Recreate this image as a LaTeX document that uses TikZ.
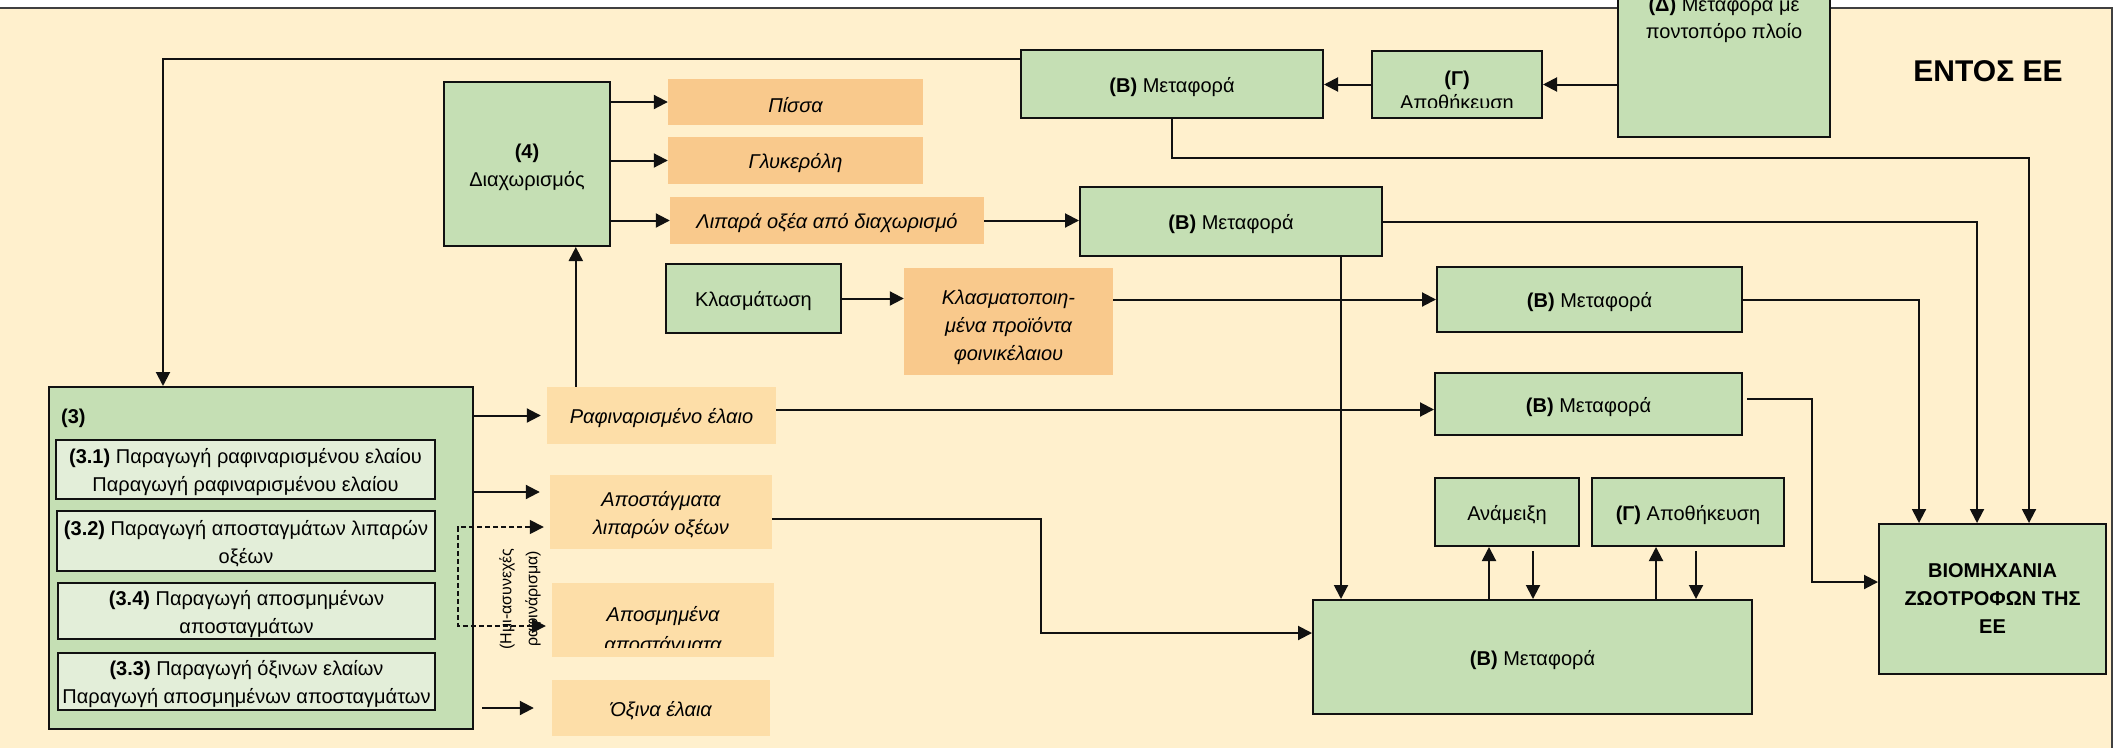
\documentclass[tikz,border=0pt]{standalone}
\usepackage{fontspec}
\setmainfont{Liberation Sans}
\usetikzlibrary{arrows.meta}
\definecolor{bgyel}{HTML}{FFF0CD}
\definecolor{grn}{HTML}{C5DFB4}
\definecolor{lgrn}{HTML}{E3EED9}
\definecolor{orng}{HTML}{F9C98C}
\definecolor{lorng}{HTML}{FDDEA8}
\definecolor{lc}{HTML}{111111}
\definecolor{framec}{HTML}{404040}
\newcommand\bfnt{\fontsize{20}{28}\selectfont}
\newcommand\upstrut{\rule{0pt}{21pt}}
\newcommand\upstrutb{\rule{0pt}{26pt}}
\newcommand\bx[7]{\node[#2, minimum width={(#5-#3)*1pt}, minimum height={(#6-#4)*1pt}] (#1) at ({(#3+#5)/2},{(#4+#6)/2}) {#7};}
\tikzset{
  every node/.style={font=\bfnt, align=center, inner sep=0pt},
  lowtext/.style={execute at begin node={\rule{0pt}{21pt}}},
  gbox/.style={draw=lc, line width=2pt, fill=grn, lowtext},
  lgbox/.style={draw=lc, line width=2pt, fill=lgrn, lowtext},
  obox/.style={fill=orng, lowtext},
  lobox/.style={fill=lorng, lowtext},
  itx/.style={font=\bfnt\itshape},
  bfx/.style={font=\bfnt\bfseries},
  arr/.style={draw=lc, line width=2pt, -{Triangle[length=14pt,width=14pt]}},
  darr/.style={draw=lc, line width=1.6pt, dash pattern=on 5pt off 3pt,
    {Triangle[length=14pt,width=14pt]}-{Triangle[length=14pt,width=14pt]}},
}
\begin{document}
\begin{tikzpicture}[x=1pt,y=-1pt]
\clip (0,0) rectangle (2125,747);
\fill[white] (0,0) rectangle (2125,747);
\draw[fill=bgyel, draw=framec, line width=1.5pt] (-10,8) rectangle (2112,760);

% title
\node[font=\fontsize{30}{34}\selectfont\bfseries] (title) at (1988,71) {ΕΝΤΟΣ ΕΕ};

% top row
\bx{BT}{gbox}{1021}{50}{1323}{118}{\textbf{(Β)} Μεταφορά}
\bx{GT}{gbox}{1372}{51}{1542}{118}{}
\begin{scope}
\clip (GT.north west) rectangle ([yshift=12pt]GT.south east);
\node[font=\fontsize{20}{24}\selectfont] (GTtext) at (1457,92) {\textbf{(Γ)}\\Αποθήκευση};
\end{scope}
\bx{DT}{gbox}{1618}{-40}{1830}{137}{}
\node[font=\fontsize{20}{27}\selectfont] (DTtext) at (1724,20) {\textbf{(Δ)} Μεταφορά με\\ποντοπόρο πλοίο};

% separation
\bx{Dfour}{gbox}{444}{82}{610}{246}{\upstrut\textbf{(4)}\\Διαχωρισμός}
\bx{Pissa}{obox,itx}{668}{79}{923}{125}{Πίσσα}
\bx{Glyk}{obox,itx}{668}{137}{923}{184}{Γλυκερόλη}
\bx{Lipara}{obox,itx}{670}{197}{984}{244}{Λιπαρά οξέα από διαχωρισμό}
\bx{BtwoB}{gbox}{1080}{187}{1382}{256}{\textbf{(Β)} Μεταφορά}

% fractionation
\bx{Klasm}{gbox}{666}{264}{841}{333}{Κλασμάτωση}
\bx{KP}{obox,itx}{904}{268}{1113}{375}{\upstrutb Κλασματοποιη-\\μένα προϊόντα\\φοινικέλαιου}
\bx{Bthree}{gbox}{1437}{267}{1742}{332}{\textbf{(Β)} Μεταφορά}

% refined oil
\bx{Rafin}{lobox,itx}{547}{387}{776}{444}{Ραφιναρισμένο έλαιο}
\bx{Bfour}{gbox}{1435}{373}{1742}{435}{\textbf{(Β)} Μεταφορά}

% products
\bx{Apost}{lobox,itx}{550}{475}{772}{549}{\upstrut Αποστάγματα\\λιπαρών οξέων}
\bx{Aposm}{lobox}{552}{583}{774}{657}{}
\begin{scope}
\clip (Aposm.north west) rectangle ([yshift=10pt]Aposm.south east);
\node[font=\fontsize{20}{30}\selectfont\itshape] (AposmText) at (663,631) {Αποσμημένα\\αποστάγματα};
\end{scope}
\bx{Oxina}{lobox,itx}{552}{680}{770}{736}{Όξινα έλαια}

% box 3
\bx{Three}{gbox}{49}{387}{473}{729}{}
\node[anchor=west] (Threelbl) at (61,418) {\textbf{(3)}};
\bx{Tone}{lgbox}{56}{440}{435}{499}{\upstrut\textbf{(3.1)} Παραγωγή ραφιναρισμένου ελαίου\\Παραγωγή ραφιναρισμένου ελαίου}
\bx{Ttwo}{lgbox}{57}{511}{435}{571}{\upstrut\textbf{(3.2)} Παραγωγή αποσταγμάτων λιπαρών\\οξέων}
\bx{Tfour}{lgbox}{58}{583}{435}{639}{\upstrut\textbf{(3.4)} Παραγωγή αποσμημένων\\αποσταγμάτων}
\bx{Tthree}{lgbox}{58}{653}{435}{710}{\upstrut\textbf{(3.3)} Παραγωγή όξινων ελαίων\\Παραγωγή αποσμημένων αποσταγμάτων}

% bottom right
\bx{Anam}{gbox}{1435}{478}{1579}{546}{Ανάμειξη}
\bx{GA}{gbox}{1592}{478}{1784}{546}{\textbf{(Γ)} Αποθήκευση}
\bx{BB}{gbox}{1313}{600}{1752}{714}{\textbf{(Β)} Μεταφορά}
\bx{BIO}{gbox,bfx}{1879}{524}{2106}{674}{ΒΙΟΜΗΧΑΝΙΑ\\ΖΩΟΤΡΟΦΩΝ ΤΗΣ\\ΕΕ}

% rotated label
\node[rotate=90, font=\fontsize{16}{26}\selectfont] (semi) at (520,599) {(Ημι-ασυνεχές\\ραφινάρισμα)};

% connectors: top
\draw[arr] (GT.east -| DT.west) -- (GT.east);
\draw[arr] (GT.west) -- (GT.west -| BT.east);
\draw[arr] ([yshift=-10pt]BT.north west) -| ([xshift=115pt]Three.north west);
\draw[arr] (BT.south) -- ++(0,39) -| ([xshift=-78pt]BIO.north east);
\draw[arr] (BtwoB.east) -| ([xshift=-130pt]BIO.north east);
\draw[arr] (Bthree.east) -| ([xshift=41pt]BIO.north west);
\draw[arr] ([xshift=4pt,yshift=5pt]Bfour.east) -- ++(65,0) |- ([yshift=17pt]BIO.west);

% separation outputs
\draw[arr] (Pissa.west -| Dfour.east) -- (Pissa.west);
\draw[arr] (Glyk.west -| Dfour.east) -- (Glyk.west);
\draw[arr] (Lipara.west -| Dfour.east) -- (Lipara.west);
\draw[arr] (Lipara.east) -- (Lipara.east -| BtwoB.west);
\draw[arr] (Klasm.east) -- (Klasm.east -| KP.west);
\draw[arr] (Bthree.west -| KP.east) -- (Bthree.west);
\coordinate (v1) at ([xshift=-42pt]BtwoB.south east);
\draw[arr] (v1) -- (v1 |- BB.north);

% box 3 outputs
\draw[arr] (Rafin.west -| Three.east) -- ([xshift=-6pt]Rafin.west);
\coordinate (r1) at ([xshift=29pt]Rafin.north west);
\draw[arr] (r1) -- (r1 |- Dfour.south);
\coordinate (r2) at ([yshift=6pt]Rafin.east);
\draw[arr] (r2) -- (r2 -| Bfour.west);
\coordinate (a1) at ([yshift=20pt]Apost.west);
\coordinate (a0) at (a1 -| Three.east);
\draw[arr] (a0) -- ([xshift=-10pt]a1);
\coordinate (a2) at ([yshift=-7pt]Apost.east);
\draw[arr] (a2) -- ++(269,0) |- ([yshift=24pt]BB.west);
\coordinate (dtop) at (458,527);
\coordinate (dbot) at (458,626);
\coordinate (d1) at (dtop -| Apost.west);
\coordinate (d2) at (dbot -| Aposm.west);
\draw[darr] ([xshift=-6pt]d1) -- (dtop) -- (dbot) -- ([xshift=-6pt]d2);
\coordinate (o0) at (Oxina.west -| Three.east);
\draw[arr] ([xshift=8pt]o0) -- ([xshift=-18pt]Oxina.west);

% mixing / storage loops
\coordinate (m1) at ([xshift=55pt]Anam.south west);
\draw[arr] (m1 |- BB.north) -- (m1);
\coordinate (m2) at ([xshift=99pt,yshift=-4pt]Anam.south west);
\draw[arr] (m2) -- (m2 |- BB.north);
\coordinate (g1) at ([xshift=65pt]GA.south west);
\draw[arr] (g1 |- BB.north) -- (g1);
\coordinate (g2) at ([xshift=105pt,yshift=-4pt]GA.south west);
\draw[arr] (g2) -- (g2 |- BB.north);
\end{tikzpicture}
\end{document}
